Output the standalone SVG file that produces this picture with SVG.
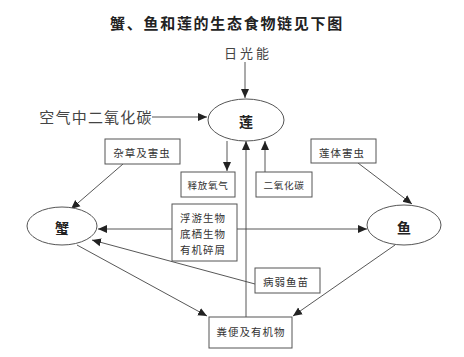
<svg xmlns="http://www.w3.org/2000/svg" width="464" height="357" viewBox="0 0 464 357">
<style>
text{font-family:"Noto Sans CJK SC","Liberation Serif",serif;fill:#333;text-anchor:middle;dominant-baseline:central}
.t{font-size:15px;font-weight:bold;letter-spacing:1.7px;fill:#222}
.lab{font-size:13px;letter-spacing:3px;fill:#444}
.big{font-size:15px;letter-spacing:1.2px;fill:#444}
.s{font-size:10.5px;letter-spacing:1px}
.xs{font-size:9.5px;letter-spacing:0.8px}
.n{font-size:14px;font-weight:bold;fill:#222}
.box,.ell{fill:#fff;stroke:#555;stroke-width:1}
.c{stroke:#444;stroke-width:0.9;fill:none}
</style>
<defs>
<marker id="a" markerUnits="userSpaceOnUse" markerWidth="10" markerHeight="10" viewBox="0 0 10 10" refX="9" refY="5" orient="auto">
<path d="M0,1 L9,5 L0,9 Z" fill="#222"/>
</marker>
</defs>
<rect width="464" height="357" fill="#fff"/>
<text class="t" x="227" y="22">蟹、鱼和莲的生态食物链见下图</text>
<text class="lab" x="248" y="52">日光能</text>
<text class="big" x="96" y="116">空气中二氧化碳</text>
<g id="connectors">
<line class="c" x1="245" y1="62" x2="245" y2="98" marker-end="url(#a)"/>
<line class="c" x1="152" y1="117" x2="207" y2="117" marker-end="url(#a)"/>
<line class="c" x1="227" y1="141" x2="227" y2="171" marker-end="url(#a)"/>
<line class="c" x1="265" y1="172" x2="265" y2="141" marker-end="url(#a)"/>
<line class="c" x1="246" y1="317" x2="246" y2="141" marker-end="url(#a)"/>
<line class="c" x1="123" y1="164" x2="71" y2="209" marker-end="url(#a)"/>
<line class="c" x1="358" y1="163" x2="412" y2="204" marker-end="url(#a)"/>
<line class="c" x1="172" y1="229" x2="98" y2="229" marker-end="url(#a)"/>
<line class="c" x1="237" y1="229" x2="367" y2="229" marker-end="url(#a)"/>
<line class="c" x1="255" y1="284" x2="92" y2="240" marker-end="url(#a)"/>
<line class="c" x1="77" y1="245" x2="207" y2="316" marker-end="url(#a)"/>
<line class="c" x1="395" y1="245" x2="293" y2="316" marker-end="url(#a)"/>
</g>
<g id="lotus"><ellipse class="ell" cx="246" cy="120" rx="38" ry="21"/><text class="n" x="246" y="121">莲</text></g>
<g id="crab"><ellipse class="ell" cx="62" cy="226" rx="35" ry="19"/><text class="n" x="62" y="227">蟹</text></g>
<g id="fish"><ellipse class="ell" cx="404" cy="225" rx="37" ry="20"/><text class="n" x="404" y="227">鱼</text></g>
<g id="weeds"><rect class="box" x="105" y="139" width="75" height="25"/><text class="s" x="142" y="152">杂草及害虫</text></g>
<g id="oxygen"><rect class="box" x="181" y="172" width="54" height="25"/><text class="xs" x="208" y="185">释放氧气</text></g>
<g id="co2"><rect class="box" x="256" y="172" width="56" height="25"/><text class="xs" x="284" y="185">二氧化碳</text></g>
<g id="pests"><rect class="box" x="311" y="139" width="65" height="24"/><text class="s" x="342" y="152">莲体害虫</text></g>
<g id="plankton"><rect class="box" x="172" y="204" width="65" height="57"/><text class="s" x="203" y="217">浮游生物</text><text class="s" x="203" y="233">底栖生物</text><text class="s" x="203" y="249">有机碎屑</text></g>
<g id="weakfry"><rect class="box" x="255" y="268" width="65" height="25"/><text class="s" x="286" y="281">病弱鱼苗</text></g>
<g id="feces"><rect class="box" x="209" y="317" width="83" height="31"/><text class="s" x="251" y="331">粪便及有机物</text></g>
</svg>
